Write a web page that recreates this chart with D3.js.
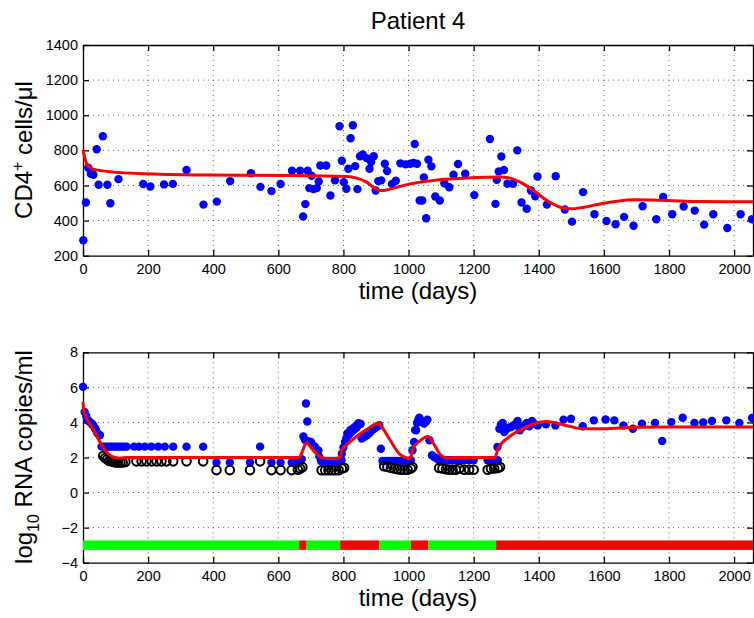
<!DOCTYPE html>
<html>
<head>
<meta charset="utf-8">
<script src="https://cdn.jsdelivr.net/npm/d3@7"></script>
<style>
	body { margin: 0; background: #fff; }
	svg { display: block; font-family: "Liberation Sans", Arial, sans-serif; }
</style>
</head>
<body>
<svg id="chart" width="754" height="618"></svg>
<script>
// CD4 counts (top panel)
const cd4Day = [1, 9, 16, 24, 32, 42, 48, 61, 75, 84, 109, 185, 207, 249, 276, 318, 370, 411, 452, 516,
	545, 579, 607, 642, 667, 676, 683, 690, 695, 702, 708, 718, 724, 729, 747, 760, 774, 788, 795, 801,
	809, 815, 822, 829, 836, 843, 851, 859, 871, 880, 885, 893, 899, 907, 916, 927, 934, 949, 961, 975,
	991, 1005, 1015, 1019, 1026, 1034, 1042, 1047, 1054, 1061, 1070, 1082, 1096, 1110, 1125, 1138, 1152, 1174, 1202, 1250,
	1267, 1271, 1277, 1285, 1293, 1304, 1321, 1334, 1347, 1363, 1376, 1389, 1396, 1425, 1452, 1480, 1502, 1536, 1571, 1608,
	1636, 1662, 1691, 1719, 1761, 1782, 1810, 1845, 1879, 1908, 1936, 1979, 2020, 2055];
const cd4Val = [288, 503, 701, 667, 661, 806, 604, 880, 604, 499, 636, 608, 594, 606, 609, 688, 491, 508, 625, 670,
	592, 568, 608, 684, 684, 423, 494, 684, 585, 655, 579, 585, 623, 714, 714, 543, 629, 937, 741, 619,
	581, 695, 869, 943, 710, 579, 766, 777, 756, 695, 733, 766, 571, 625, 629, 724, 682, 609, 627, 726,
	720, 724, 728, 836, 724, 514, 514, 646, 413, 747, 709, 537, 514, 613, 590, 661, 722, 667, 545, 865,
	495, 632, 680, 765, 688, 610, 610, 800, 503, 467, 571, 539, 651, 491, 653, 463, 394, 562, 436, 398,
	379, 421, 371, 482, 408, 535, 436, 480, 457, 377, 436, 358, 436, 408];

// model fit, CD4
const cd4FitDay = [0, 5, 11, 20, 32, 60, 93, 196, 400, 605, 810, 841, 871, 892, 910, 925, 942, 973, 1004, 1077,
	1179, 1282, 1312, 1343, 1384, 1425, 1466, 1497, 1538, 1589, 1640, 1691, 1793, 1895, 2058];
const cd4Fit = [804, 760, 724, 705, 693, 683, 676, 667, 659, 657, 651, 642, 619, 590, 572, 572, 579, 594, 609, 629,
	642, 648, 642, 619, 571, 514, 476, 467, 476, 495, 510, 518, 514, 508, 507];

// viral load, measured (bottom panel)
const vlDay = [0, 5, 10, 15, 19, 24, 28, 31, 36, 39, 44, 49, 52,
	57, 64, 71, 78, 85, 92, 99, 106, 113, 120, 127, 134, 157, 172, 190, 210, 231, 251, 277, 318, 369,
	410, 451, 513, 544, 579, 607, 641, 656, 667, 672,
	677, 682, 685, 689, 694, 700, 706, 712, 718, 723, 726,
	731, 738, 745, 752, 759, 766, 773, 780, 787, 794,
	795, 800, 805, 809, 812, 817, 821, 825, 829, 833, 836, 840, 843, 846, 849, 853, 856, 860, 864, 868,
	872, 876, 880, 884, 887, 890, 894, 898, 902, 906, 910, 915,
	920, 928, 936, 944, 952, 960, 968, 976, 984, 992, 1000, 1007,
	1012, 1017, 1020, 1023, 1026, 1030, 1033, 1038, 1043, 1048, 1053, 1058, 1064, 1072, 1079, 1087,
	1094, 1104, 1115, 1125, 1135, 1145, 1156, 1171, 1186, 1200, 1243, 1253, 1263, 1274,
	1273, 1279, 1284, 1289, 1294, 1299, 1307, 1315, 1322, 1330, 1335, 1342, 1348, 1356, 1363, 1371, 1379, 1386, 1397,
	1422, 1451, 1476, 1499, 1535, 1569, 1605, 1632, 1660, 1689, 1717, 1757, 1779, 1807, 1842, 1878, 1905, 1932, 1976, 2016, 2055];
const vlVal = [6.03, 4.6, 4.35, 4.13, 4.05, 3.98, 3.9, 3.85, 3.7, 3.6, 3.4, 3.31, 3.27,
	2.62, 2.62, 2.62, 2.62, 2.62, 2.62, 2.62, 2.62, 2.62, 2.62, 2.62, 2.62, 2.62, 2.62, 2.62, 2.62, 2.62, 2.62, 2.62, 2.62, 2.62,
	1.72, 1.72, 1.72, 2.62, 1.72, 1.72, 1.72, 1.75, 1.8, 1.9,
	3.2, 3.0, 5.08, 4.05, 2.92, 2.88, 2.7, 2.62, 2.45, 2.4, 2.05,
	1.8, 1.8, 1.8, 1.8, 1.8, 1.8, 1.8, 1.8, 1.8, 1.84,
	2.22, 2.57, 2.89, 3.1, 3.37, 3.3, 3.56, 3.45, 3.65, 3.6, 3.75, 3.7, 3.84, 3.95, 3.9, 3.92, 3.08, 3.2, 3.17, 3.3,
	3.27, 3.35, 3.4, 3.5, 3.56, 3.6, 3.65, 3.7, 3.75, 3.8, 3.84, 2.5,
	1.8, 1.8, 1.8, 1.8, 1.8, 1.8, 1.8, 1.8, 1.8, 1.8, 1.8, 1.84,
	2.41, 2.88, 3.56, 3.55, 3.97, 4.15, 4.27, 4.12, 4.02, 3.94, 4.02, 4.16, 2.98, 2.13, 2.03, 1.94,
	1.84, 1.84, 1.84, 1.84, 1.84, 1.84, 1.84, 1.84, 1.84, 1.84, 1.84, 1.84, 1.84, 1.84,
	2.6, 3.64, 3.89, 3.97, 3.45, 3.59, 3.7, 3.74, 3.83, 3.93, 4.08, 3.55, 3.7, 3.83, 3.97, 3.78, 4.08, 3.93, 3.83,
	3.89, 3.83, 4.16, 4.21, 3.78, 4.12, 4.17, 4.12, 3.83, 3.64, 3.93, 3.97, 2.94, 4.02, 4.27, 3.97, 4.0, 4.08, 4.12, 3.97, 4.25];

// below-detection markers (open circles)
const bdlDay = [62, 68, 74, 80, 87, 94, 101, 108, 115, 122, 130, 164, 180, 195, 211, 226, 241, 256, 277, 318, 369,
	410, 451, 513, 544, 579, 607, 641, 660, 667, 674,
	733, 744, 754, 764, 774, 785, 795, 802,
	925, 935, 946, 956, 966, 976, 987, 997, 1007, 1012,
	1094, 1104, 1115, 1125, 1135, 1145, 1156, 1171, 1186, 1200, 1243, 1253, 1263, 1274, 1281];
const bdlVal = [2.08, 1.97, 1.9, 1.82, 1.78, 1.74, 1.72, 1.72, 1.72, 1.72, 1.75, 1.78, 1.78, 1.78, 1.78, 1.78, 1.78, 1.78, 1.78, 1.78, 1.78,
	1.28, 1.28, 1.28, 1.78, 1.28, 1.28, 1.28, 1.3, 1.37, 1.45,
	1.27, 1.27, 1.27, 1.27, 1.27, 1.27, 1.37, 1.41,
	1.5, 1.46, 1.41, 1.37, 1.33, 1.3, 1.3, 1.3, 1.37, 1.46,
	1.4, 1.37, 1.33, 1.3, 1.3, 1.3, 1.37, 1.3, 1.3, 1.3, 1.3, 1.37, 1.37, 1.4, 1.46];

// model fit, viral load
const vlFitDay = [0, 2, 10, 31, 52, 72, 93, 113, 140, 665, 675, 686, 711, 730, 747, 773, 790, 796, 814, 845,
	876, 908, 918, 941, 971, 997, 1005, 1013, 1031, 1060, 1077, 1099, 1120, 1145, 1265, 1275, 1309, 1350, 1391, 1422,
	1453, 1494, 1535, 1596, 1699, 1801, 2058];
const vlFit = [5.17, 4.7, 4.28, 3.65, 2.89, 2.32, 2.03, 1.96, 2.0, 2.0, 2.41, 2.83, 2.32, 2.03, 1.94, 1.94, 2.0, 2.45, 2.79, 3.27,
	3.65, 3.97, 3.74, 3.07, 2.22, 1.96, 1.94, 2.51, 2.89, 3.2, 2.79, 2.13, 1.96, 2.0, 2.0, 2.5, 3.17, 3.64, 3.97, 4.06,
	3.97, 3.78, 3.64, 3.64, 3.72, 3.74, 3.74];

// therapy on / off bar
const segStart = [0, 664, 685, 790, 910, 1007, 1061, 1269];
const segEnd = [664, 685, 790, 910, 1007, 1061, 1269, 2058];
const segOn = [1, 0, 1, 0, 1, 0, 1, 0];

const xTicks = d3.range(0, 2001, 200);
const cd4Ticks = [200, 400, 600, 800, 1000, 1200, 1400];
const vlTicks = [-4, -2, 0, 2, 4, 6, 8];

const svg = d3.select("#chart");

const x = d3.scaleLinear().domain([0, 2058]).range([83, 753]);
const yTop = d3.scaleLinear().domain([200, 1400]).range([255.7, 45]);
const yBot = d3.scaleLinear().domain([-4, 8]).range([562.7, 352.3]);

function drawPanel(y, ticks) {
	let g = svg.append("g");
	let [y0, y1] = y.range();

	// dotted grid
	g.append("g").selectAll("line")
		.data(xTicks.filter(d => d > 0))
		.join("line")
		.attr("x1", d => x(d)).attr("x2", d => x(d))
		.attr("y1", y1).attr("y2", y0)
		.attr("stroke", "#444")
		.attr("stroke-width", 0.8)
		.attr("stroke-dasharray", "1,4");
	g.append("g").selectAll("line")
		.data(ticks.slice(1, -1))
		.join("line")
		.attr("x1", x.range()[0]).attr("x2", x.range()[1])
		.attr("y1", d => y(d)).attr("y2", d => y(d))
		.attr("stroke", "#444")
		.attr("stroke-width", 0.8)
		.attr("stroke-dasharray", "1,4");

	// axes with inward ticks on all four sides
	g.append("g")
		.attr("transform", `translate(0,${y0})`)
		.call(d3.axisBottom(x).tickValues(xTicks).tickSize(-6).tickSizeOuter(0).tickPadding(8)
			.tickFormat(d3.format("d")));
	g.append("g")
		.attr("transform", `translate(0,${y1})`)
		.call(d3.axisTop(x).tickValues(xTicks).tickSize(-6).tickSizeOuter(0).tickFormat(""));
	g.append("g")
		.attr("transform", `translate(${x.range()[0]},0)`)
		.call(d3.axisLeft(y).tickValues(ticks).tickSize(-6).tickSizeOuter(0).tickPadding(5)
			.tickFormat(d => d < 0 ? "\u2212" + Math.abs(d) : String(d)));
	g.append("g")
		.attr("transform", `translate(${x.range()[1]},0)`)
		.call(d3.axisRight(y).tickValues(ticks).tickSize(-6).tickSizeOuter(0).tickFormat(""));

	g.selectAll(".domain, .tick line")
		.attr("stroke", "#000")
		.attr("stroke-width", 1.3);
	g.selectAll(".tick text")
		.attr("fill", "#000")
		.style("font-size", "14.5px");

	g.append("text")
		.attr("x", 418)
		.attr("y", y0 + 43)
		.attr("text-anchor", "middle")
		.style("font-size", "24px")
		.text("time (days)");

	return g;
}

// ---- top panel
const gTop = drawPanel(yTop, cd4Ticks);

gTop.append("g").selectAll("circle")
	.data(cd4Day)
	.join("circle")
	.attr("cx", d => x(d))
	.attr("cy", (d, i) => yTop(cd4Val[i]))
	.attr("r", 4.2)
	.attr("fill", "#0000ff");

gTop.append("path")
	.datum(cd4FitDay)
	.attr("fill", "none")
	.attr("stroke", "#ff0000")
	.attr("stroke-width", 3)
	.attr("d", d3.line().x(d => x(d)).y((d, i) => yTop(cd4Fit[i])).curve(d3.curveMonotoneX));

let ylab1 = gTop.append("text")
	.attr("transform", "translate(32,150) rotate(-90)")
	.attr("text-anchor", "middle")
	.style("font-size", "24px");
ylab1.append("tspan").text("CD4");
ylab1.append("tspan").attr("dy", -9).style("font-size", "16px").text("+");
ylab1.append("tspan").attr("dy", 9).text(" cells/\u03bcl");

svg.append("text")
	.attr("x", 418)
	.attr("y", 29)
	.attr("text-anchor", "middle")
	.style("font-size", "24px")
	.text("Patient 4");

// ---- bottom panel
const gBot = drawPanel(yBot, vlTicks);

gBot.append("g").selectAll("rect")
	.data(segStart)
	.join("rect")
	.attr("x", d => x(d))
	.attr("width", (d, i) => x(segEnd[i]) - x(d))
	.attr("y", yBot(-2.73))
	.attr("height", yBot(-3.27) - yBot(-2.73))
	.attr("fill", (d, i) => segOn[i] ? "#00ff00" : "#ff0000");

gBot.append("g").selectAll("circle")
	.data(vlDay)
	.join("circle")
	.attr("cx", d => x(d))
	.attr("cy", (d, i) => yBot(vlVal[i]))
	.attr("r", 4.2)
	.attr("fill", "#0000ff");

gBot.append("g").selectAll("circle")
	.data(bdlDay)
	.join("circle")
	.attr("cx", d => x(d))
	.attr("cy", (d, i) => yBot(bdlVal[i]))
	.attr("r", 4.3)
	.attr("fill", "none")
	.attr("stroke", "#000")
	.attr("stroke-width", 2);

gBot.append("path")
	.datum(vlFitDay)
	.attr("fill", "none")
	.attr("stroke", "#ff0000")
	.attr("stroke-width", 3)
	.attr("d", d3.line().x(d => x(d)).y((d, i) => yBot(vlFit[i])).curve(d3.curveMonotoneX));

let ylab2 = gBot.append("text")
	.attr("transform", "translate(32,457) rotate(-90)")
	.attr("text-anchor", "middle")
	.style("font-size", "24px");
ylab2.append("tspan").text("log");
ylab2.append("tspan").attr("dy", 7).style("font-size", "16px").text("10");
ylab2.append("tspan").attr("dy", -7).text(" RNA copies/ml");
</script>
</body>
</html>
